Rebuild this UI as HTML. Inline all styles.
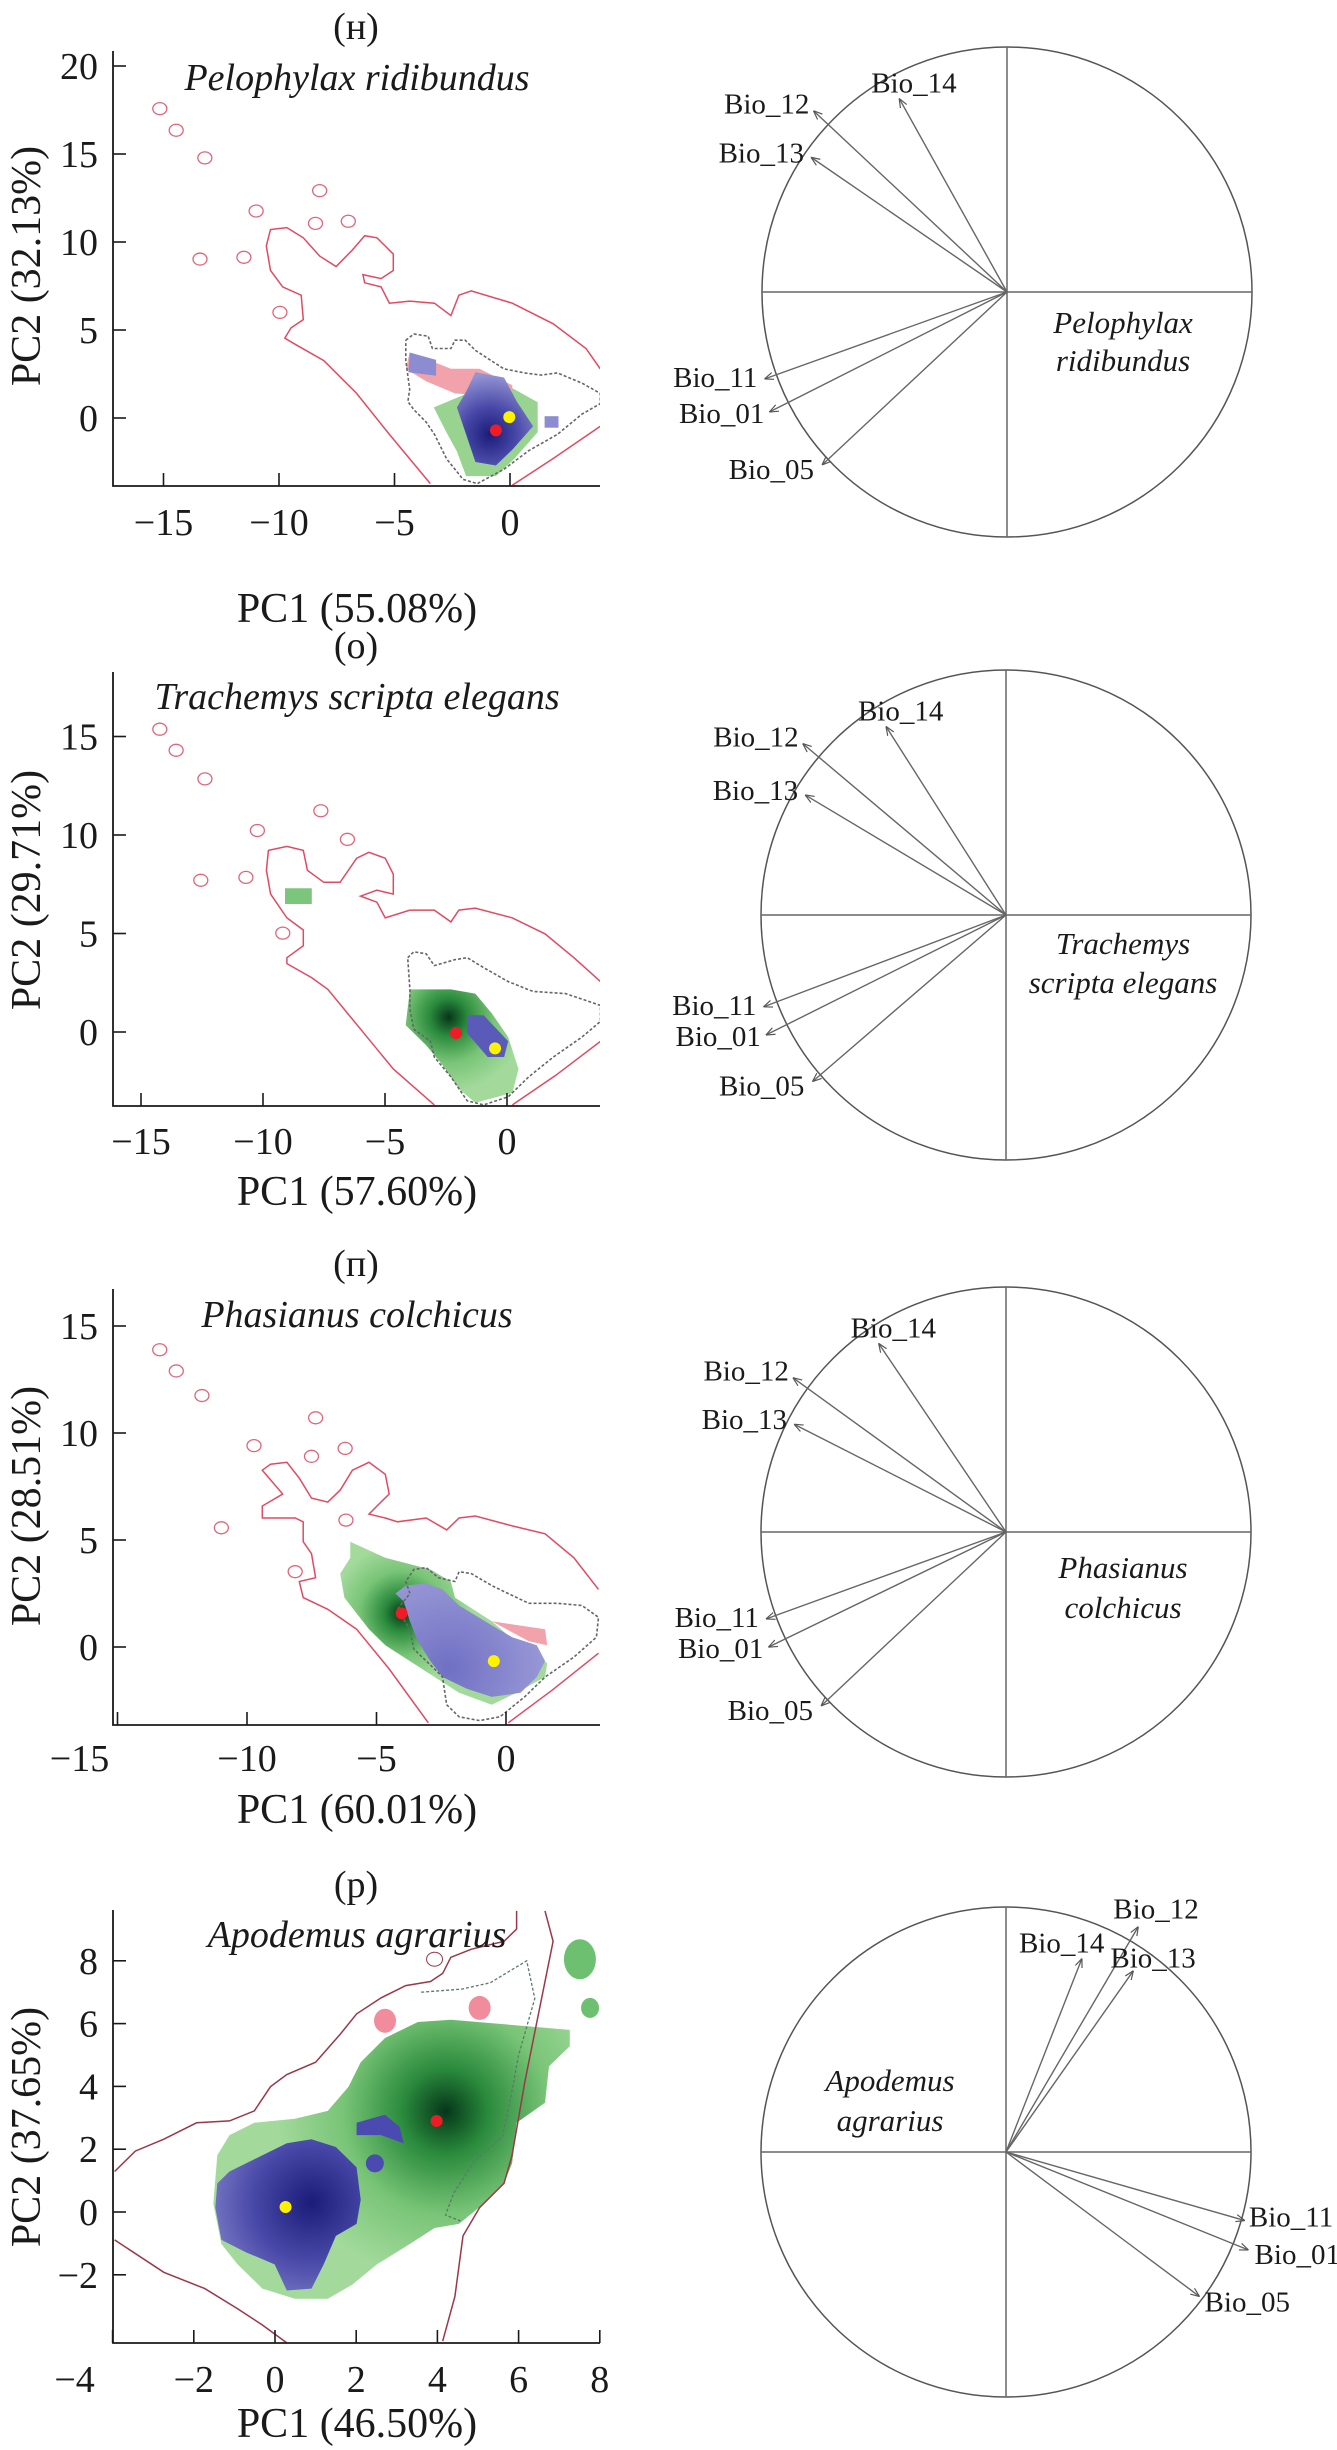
<!DOCTYPE html>
<html><head><meta charset="utf-8"><style>
html,body{margin:0;padding:0;background:#fff;}
svg{display:block;font-family:"Liberation Serif",serif;}
</style></head><body>
<svg id="fig" width="1337" height="2450" viewBox="0 0 1337 2450" xmlns="http://www.w3.org/2000/svg">
<defs>
<marker id="ah" viewBox="0 0 10 10" refX="10" refY="5" markerWidth="9" markerHeight="9" markerUnits="userSpaceOnUse" orient="auto"><path d="M0,1 L10,5 L0,9" fill="none" stroke="#555" stroke-width="1.3"/></marker>
</defs>
</svg>
<script>
// ---------- DATA ----------
const panelLetters = ["(н)", "(о)", "(п)", "(р)"];
const speciesNames = ["Pelophylax ridibundus", "Trachemys scripta elegans", "Phasianus colchicus", "Apodemus agrarius"];
const circleLine1 = ["Pelophylax", "Trachemys", "Phasianus", "Apodemus"];
const circleLine2 = ["ridibundus", "scripta elegans", "colchicus", "agrarius"];
const xTitles = ["PC1 (55.08%)", "PC1 (57.60%)", "PC1 (60.01%)", "PC1 (46.50%)"];
const yTitles = ["PC2 (32.13%)", "PC2 (29.71%)", "PC2 (28.51%)", "PC2 (37.65%)"];
const xTicks1 = [-15, -10, -5, 0];
const xTicks2 = [-15, -10, -5, 0];
const xTicks3 = [-15, -10, -5, 0];
const xTicks4 = [-4, -2, 0, 2, 4, 6, 8];
const yTicks1 = [0, 5, 10, 15, 20];
const yTicks2 = [0, 5, 10, 15];
const yTicks3 = [0, 5, 10, 15];
const yTicks4 = [-2, 0, 2, 4, 6, 8];

const bioNames = ["Bio_14", "Bio_12", "Bio_13", "Bio_11", "Bio_01", "Bio_05"];
const load1X = [-0.44, -0.79, -0.80, -0.99, -0.97, -0.755];
const load1Y = [0.79, 0.74, 0.55, -0.355, -0.49, -0.706];
const load2X = [-0.49, -0.83, -0.82, -0.99, -0.98, -0.79];
const load2Y = [0.77, 0.70, 0.49, -0.375, -0.49, -0.68];
const load3X = [-0.52, -0.87, -0.865, -0.98, -0.97, -0.755];
const load3Y = [0.77, 0.63, 0.44, -0.355, -0.47, -0.71];
const load4X = [0.31, 0.54, 0.52, 0.975, 0.99, 0.79];
const load4Y = [0.79, 0.92, 0.74, -0.28, -0.40, -0.59];

const red1 = [-0.61, -0.70], yellow1 = [-0.03, 0.05];
const red2 = [-2.09, -0.06], yellow2 = [-0.49, -0.83];
const red3 = [-4.03, 1.57], yellow3 = [-0.47, -0.66];
const red4 = [3.98, 2.90], yellow4 = [0.26, 0.16];

const p1Outer = [[-3.45,-3.73],[-5.22,-0.93],[-6.64,1.40],[-8.06,3.26],[-9.30,4.19],[-9.75,4.54],[-9.48,5.12],[-8.95,5.59],[-9.04,6.98],[-9.84,7.45],[-10.37,8.38],[-10.55,9.78],[-10.37,10.71],[-9.66,10.82],[-8.95,10.24],[-8.24,9.20],[-7.53,8.61],[-6.82,9.55],[-6.29,10.36],[-5.76,10.24],[-5.05,9.31],[-5.05,8.38],[-5.58,7.92],[-6.37,8.15],[-6.29,7.68],[-5.58,7.45],[-5.22,6.52],[-4.34,6.64],[-3.27,6.52],[-2.56,5.82],[-2.21,6.98],[-1.68,7.22],[0.10,6.52],[1.87,5.35],[3.29,3.95],[3.91,2.79]];
const p1Outer2 = [[0.10,-3.82],[1.87,-2.30],[3.91,-0.47]];
const p1Islands = [[-15.16,17.58],[-14.45,16.35],[-13.21,14.78],[-8.24,12.92],[-10.99,11.76],[-8.42,11.06],[-7.0,11.18],[-13.42,9.03],[-11.52,9.13],[-9.96,6.0]];
const p1Gray = [[-4.51,4.42],[-4.16,4.77],[-3.54,4.65],[-3.36,3.95],[-2.56,3.95],[-2.38,4.42],[-1.94,4.42],[-1.50,3.84],[-0.26,2.79],[0.63,2.56],[1.34,2.44],[2.05,2.56],[3.12,1.98],[3.91,1.40],[3.91,0.81],[3.12,0.23],[2.05,-0.93],[0.81,-1.86],[-0.26,-2.91],[-1.41,-3.73],[-2.03,-3.49],[-2.74,-2.33],[-3.27,-0.93],[-3.63,-0.23],[-4.16,0.47],[-4.42,0.93],[-4.34,1.63],[-4.51,3.26]];
const p1Green = [[-3.3,0.6],[-2.03,1.3],[0.10,1.7],[1.2,0.9],[1.2,-0.8],[0.2,-2.3],[-0.61,-3.3],[-1.9,-3.3],[-2.3,-1.9],[-2.8,-0.7]];
const p1Pink = [[-4.34,3.72],[-2.56,2.8],[-1.32,2.8],[0.10,1.86],[0.10,1.16],[-2.38,1.40],[-3.63,2.09],[-4.51,2.79]];
const p1Blue = [[-2.3,0.6],[-1.9,1.5],[-1.5,2.6],[-0.26,2.3],[0.3,0.93],[1.0,-0.47],[0.1,-1.8],[-0.61,-2.7],[-1.5,-2.5],[-1.9,-0.93]];
const p1BlueStrip = [[-4.34,3.72],[-3.2,3.3],[-3.2,2.4],[-4.4,2.6]];
const p1BlueSq = [[1.5,0.1],[2.1,0.1],[2.1,-0.55],[1.5,-0.55]];
const p1Navy = [-0.87,-0.93];

const p2Outer = [[-2.98,-3.70],[-4.66,-1.88],[-6.00,0.14],[-7.34,2.16],[-8.01,2.76],[-9.02,3.47],[-9.02,3.77],[-8.35,4.38],[-8.35,5.18],[-9.02,5.79],[-9.69,7.0],[-9.86,8.21],[-9.78,9.22],[-9.02,9.42],[-8.35,9.22],[-8.18,8.21],[-7.51,7.60],[-6.84,7.60],[-6.16,8.82],[-5.66,9.12],[-4.99,8.82],[-4.66,8.01],[-4.66,7.0],[-5.33,7.20],[-6.00,6.90],[-5.33,6.59],[-4.99,5.79],[-3.98,6.19],[-2.98,6.19],[-2.30,5.59],[-1.97,6.19],[-1.30,6.29],[0.22,5.79],[1.56,4.98],[2.74,3.77],[3.83,2.56]];
const p2Outer2 = [[0.22,-3.70],[2.0,-2.2],[3.83,-0.47]];
const p2Islands = [[-14.23,15.37],[-13.56,14.30],[-12.38,12.85],[-7.63,11.23],[-10.23,10.23],[-6.54,9.78],[-12.55,7.70],[-10.70,7.85],[-9.19,5.02]];
const p2Gray = [[-4.07,3.77],[-3.82,4.07],[-3.31,3.97],[-2.98,3.37],[-2.14,3.67],[-1.63,3.77],[-0.96,3.27],[0.05,2.56],[1.06,2.06],[2.40,1.95],[3.83,1.35],[3.83,0.54],[3.07,-0.26],[1.90,-1.27],[0.89,-2.28],[0.05,-3.29],[-0.96,-3.70],[-1.63,-3.49],[-2.30,-2.28],[-2.98,-1.27],[-3.14,-0.47],[-3.82,0.14],[-3.98,1.15],[-3.98,2.16]];
const p2Green = [[-3.98,2.16],[-2.30,2.16],[-1.30,1.95],[-0.62,0.94],[0.05,-0.26],[0.47,-1.88],[0.22,-3.09],[-1.30,-3.59],[-1.97,-2.89],[-2.64,-1.68],[-3.31,-0.67],[-4.15,0.34]];
const p2Blue = [[-1.63,0.85],[-0.96,0.85],[0.05,-0.47],[-0.12,-1.27],[-0.79,-1.27],[-1.63,-0.06]];
const p2GreenIsland = [[-9.1,7.3],[-8.0,7.3],[-8.0,6.5],[-9.1,6.5]];
const p2Dark = [-2.39,0.75];

const p3Outer = [[-3.00,-3.54],[-4.51,-1.03],[-5.77,0.83],[-6.88,1.76],[-7.83,2.31],[-7.98,3.06],[-7.35,3.24],[-7.51,4.36],[-7.83,4.92],[-7.83,5.85],[-8.14,6.03],[-9.41,6.03],[-9.41,6.59],[-8.62,7.15],[-9.41,8.26],[-9.09,8.54],[-8.46,8.63],[-7.98,7.89],[-7.51,6.96],[-6.88,6.77],[-6.40,7.33],[-5.93,8.26],[-5.29,8.63],[-4.66,8.07],[-4.51,7.15],[-4.98,6.59],[-5.29,6.21],[-4.66,6.03],[-4.19,5.85],[-3.08,6.03],[-2.29,5.47],[-1.81,6.03],[-1.18,6.12],[0.24,5.66],[1.51,5.29],[2.62,4.17],[3.57,2.69]];
const p3Outer2 = [[0.09,-3.54],[1.8,-2.0],[3.57,-0.29]];
const p3Islands = [[-13.37,13.89],[-12.73,12.90],[-11.74,11.75],[-7.35,10.71],[-9.73,9.41],[-7.51,8.91],[-6.21,9.28],[-10.99,5.57],[-8.14,3.52],[-6.18,5.93]];
const p3Gray = [[-3.71,2.50],[-3.87,3.06],[-3.56,3.62],[-3.08,3.71],[-2.61,3.24],[-1.97,3.06],[-1.81,3.52],[-1.34,3.43],[-0.55,2.87],[0.08,2.50],[0.88,2.04],[1.98,2.04],[2.93,1.94],[3.57,1.39],[3.49,0.46],[2.62,-0.47],[1.51,-1.40],[0.72,-2.33],[-0.23,-3.26],[-1.02,-3.44],[-1.81,-3.26],[-2.29,-2.70],[-2.45,-1.40],[-2.92,-0.84],[-3.56,-0.10],[-3.71,0.83],[-4.19,1.76]];
const p3Green = [[-6.01,4.92],[-4.66,4.17],[-2.92,3.62],[-2.13,3.06],[-1.97,2.31],[-0.55,1.20],[0.88,-0.29],[1.59,-0.75],[1.51,-1.40],[0.40,-2.14],[-0.55,-2.70],[-1.81,-2.14],[-2.76,-1.40],[-3.71,-0.66],[-4.66,0.08],[-5.29,0.83],[-5.77,1.57],[-6.24,2.31],[-6.40,3.43],[-6.01,4.17]];
const p3Pink = [[-0.55,1.20],[1.51,0.83],[1.59,0.08],[0.88,0.27]];
const p3Blue = [[-4.27,2.50],[-3.87,2.87],[-3.08,2.97],[-2.45,2.69],[-1.81,1.94],[-0.55,1.01],[0.24,0.46],[1.19,0.08],[1.51,-0.66],[1.19,-1.40],[0.56,-2.14],[-0.55,-2.33],[-1.50,-1.96],[-2.45,-1.40],[-2.92,-0.66],[-3.40,0.27],[-3.71,1.20],[-3.95,2.13]];

const p4OuterTop = [[-3.95,1.29],[-3.44,1.94],[-2.74,2.32],[-1.93,2.84],[-1.12,2.90],[-0.51,3.22],[-0.11,3.99],[0.29,4.38],[1.00,4.77],[1.61,5.67],[2.01,6.31],[2.61,6.82],[3.22,7.21],[3.83,7.34],[4.13,7.60],[4.33,8.11],[4.84,8.37],[5.64,8.62],[5.95,9.01],[5.95,9.59]];
const p4OuterRight = [[6.65,9.59],[6.85,8.62],[6.65,7.34],[6.35,5.41],[6.15,4.12],[5.84,1.81],[5.64,0.91],[5.04,0.14],[4.63,-0.76],[4.43,-2.69],[4.13,-4.11]];
const p4OuterLow = [[-3.95,-0.89],[-2.74,-1.92],[-1.73,-2.44],[-0.92,-3.08],[-0.31,-3.60],[0.29,-4.17]];
const p4Gray = [[3.6,7.0],[4.6,7.1],[5.3,7.3],[6.2,8.0],[6.4,6.8],[6.0,5.0],[5.8,3.6],[5.6,2.4],[4.9,1.6],[4.4,0.6],[4.2,-0.1],[4.6,-0.3]];
const p4Green = [[-1.42,1.81],[-1.12,2.45],[-0.51,2.84],[0.49,2.97],[1.30,3.22],[1.81,3.99],[2.11,4.77],[2.71,5.54],[3.52,6.05],[4.33,6.12],[5.54,5.99],[7.26,5.80],[7.26,5.28],[6.75,4.64],[6.65,3.48],[5.95,2.84],[5.84,1.55],[5.64,0.91],[5.14,0.26],[4.53,-0.38],[3.93,-0.51],[3.32,-1.02],[2.51,-1.67],[1.91,-2.31],[1.30,-2.76],[0.49,-2.76],[-0.31,-2.44],[-0.92,-1.67],[-1.32,-1.02],[-1.52,0.26]];
const p4Blue = [[-1.42,0.91],[-1.12,1.29],[-0.51,1.68],[0.29,2.19],[0.90,2.32],[1.50,2.07],[2.01,1.42],[2.11,0.39],[2.01,-0.38],[1.50,-0.76],[1.20,-1.67],[0.90,-2.44],[0.29,-2.50],[-0.01,-1.67],[-0.72,-1.28],[-1.32,-0.89],[-1.47,0.14]];
const p4BlueSmall = [[2.01,2.84],[2.71,3.10],[3.07,2.71],[3.17,2.19],[2.61,2.45],[2.01,2.45]];
const p4BlueDot = [2.46,1.55];
const p4Pink = [[2.71,6.09],[5.04,6.50]];
const p4GreenIsl = [[7.51,8.05],[7.76,6.50]];
const p4Loop = [3.93,8.05];
const p4DarkGreen = [4.2,3.2];
const p4Navy = [0.9,0.3];

// ---------- LAYOUT (pixels) ----------
const layout = [
 {x0:510,sx:23.1,y0:418,sy:17.6,top:51,bottom:486,letterY:39,titleY:90,tickY:535,xtY:622,ytY:266,cx:1007,cy:292,l1:333,l2:371,lx:1123},
 {x0:507,sx:24.4,y0:1032,sy:19.7,top:672,bottom:1106,letterY:658,titleY:709,tickY:1154,xtY:1205,ytY:890,cx:1006,cy:915,l1:954,l2:993,lx:1123},
 {x0:506,sx:25.9,y0:1647,sy:21.4,top:1289,bottom:1725,letterY:1276,titleY:1327,tickY:1771,xtY:1823,ytY:1506,cx:1006,cy:1532,l1:1578,l2:1618,lx:1123},
 {x0:275,sx:40.6,y0:2212,sy:31.4,top:1910,bottom:2343,letterY:1897,titleY:1947,tickY:2392,xtY:2437,ytY:2127,cx:1006,cy:2152,l1:2091,l2:2131,lx:890}
];
const AX_L = 113, AX_R = 600, R = 245;

const NS = 'http://www.w3.org/2000/svg';
const svg = document.getElementById('fig');
const defs = svg.querySelector('defs');
function mk(tag, parent){ const e = document.createElementNS(NS, tag); (parent || svg).appendChild(e); return e; }

function scales(L){ return { X: v => L.x0 + v * L.sx, Y: v => L.y0 - v * L.sy }; }
function pathOf(pts, s, closed){ return 'M' + pts.map(p => s.X(p[0]).toFixed(1) + ',' + s.Y(p[1]).toFixed(1)).join('L') + (closed ? 'Z' : ''); }

function gradient(id, cx, cy, r, stops){
  const g = mk('radialGradient', defs);
  g.setAttribute('id', id); g.setAttribute('gradientUnits', 'userSpaceOnUse');
  g.setAttribute('cx', cx); g.setAttribute('cy', cy); g.setAttribute('r', r);
  stops.forEach(st => { const s = mk('stop', g); s.setAttribute('offset', st[0]); s.setAttribute('stop-color', st[1]); });
}
const GREEN = [[0,'#05361a'],[0.25,'#2a8a3c'],[0.6,'#78c476'],[1,'#a3da9c']];
const BLUE = [[0,'#1b1b78'],[0.45,'#4848a8'],[1,'#9494d4']];

function poly(g, pts, s, fill, name){
  const p = mk('path', g);
  p.setAttribute('d', pathOf(pts, s, true)); p.setAttribute('fill', fill);
  
  
  return p;
}
function line(g, pts, s, stroke, dash, w, name){
  const p = mk('path', g);
  p.setAttribute('d', pathOf(pts, s, false)); p.setAttribute('fill', 'none');
  p.setAttribute('stroke', stroke); p.setAttribute('stroke-width', w);
  if (dash) p.setAttribute('stroke-dasharray', dash);
  
  
  return p;
}
function islands(g, pts, s, name){
  pts.forEach(c => {
    const e = mk('ellipse', g);
    e.setAttribute('cx', s.X(c[0])); e.setAttribute('cy', s.Y(c[1]));
    e.setAttribute('rx', 7); e.setAttribute('ry', 6);
    e.setAttribute('fill', 'none'); e.setAttribute('stroke', '#e0657a'); e.setAttribute('stroke-width', 1.3);
    
    
  });
}
function dot(g, c, s, color, name){
  const e = mk('circle', g);
  e.setAttribute('cx', s.X(c[0])); e.setAttribute('cy', s.Y(c[1])); e.setAttribute('r', 6);
  e.setAttribute('fill', color);
  
  
}
function text(str, x, y, size, opts){
  const t = mk('text', opts && opts.parent);
  t.textContent = str;
  t.setAttribute('x', x); t.setAttribute('y', y);
  t.setAttribute('font-size', size); t.setAttribute('fill', '#1a1a1a');
  t.setAttribute('text-anchor', (opts && opts.anchor) || 'middle');
  if (opts && opts.italic) t.setAttribute('font-style', 'italic');
  if (opts && opts.transform) t.setAttribute('transform', opts.transform);
  return t;
}

const xTickSets = [xTicks1, xTicks2, xTicks3, xTicks4];
const yTickSets = [yTicks1, yTicks2, yTicks3, yTicks4];
const loadX = [load1X, load2X, load3X, load4X];
const loadY = [load1Y, load2Y, load3Y, load4Y];

layout.forEach((L, i) => {
  const s = scales(L);
  const n = i + 1;
  const cp = mk('clipPath', defs); cp.setAttribute('id', 'clip' + n);
  const cr = mk('rect', cp); cr.setAttribute('x', AX_L); cr.setAttribute('y', L.top); cr.setAttribute('width', AX_R - AX_L); cr.setAttribute('height', L.bottom - L.top);
  const g = mk('g');
  g.setAttribute('clip-path', 'url(#clip' + n + ')');
  
  

  if (n === 1) {
    gradient('b1', s.X(p1Navy[0]), s.Y(p1Navy[1]), 60, BLUE);
    poly(g, p1Green, s, '#98d490', 'species-niche-green');
    poly(g, p1Pink, s, '#f2a2aa', 'overlap-pink');
    poly(g, p1Blue, s, 'url(#b1)', 'species-niche-blue');
    poly(g, p1BlueStrip, s, '#8c8cd0', 'blue-strip');
    poly(g, p1BlueSq, s, '#8c8cd0', 'blue-square');
    line(g, p1Outer, s, '#e04a62', null, 1.5, 'background-contour');
    line(g, p1Outer2, s, '#e04a62', null, 1.5, 'background-contour-lower');
    islands(g, p1Islands, s, 'contour-island');
    line(g, p1Gray.concat([p1Gray[0]]), s, '#666', '3,2', 1.6, 'native-contour');
    dot(g, red1, s, '#ee1c24', 'centroid-red'); dot(g, yellow1, s, '#fff200', 'centroid-yellow');
  } else if (n === 2) {
    gradient('g2', s.X(p2Dark[0]), s.Y(p2Dark[1]), 75, GREEN);
    poly(g, p2Green, s, 'url(#g2)', 'species-niche-green');
    poly(g, p2GreenIsland, s, '#7cc57c', 'green-island');
    poly(g, p2Blue, s, '#5a5ab8', 'species-niche-blue');
    line(g, p2Outer, s, '#e04a62', null, 1.5, 'background-contour');
    line(g, p2Outer2, s, '#e04a62', null, 1.5, 'background-contour-lower');
    islands(g, p2Islands, s, 'contour-island');
    line(g, p2Gray.concat([p2Gray[0]]), s, '#666', '3,2', 1.6, 'native-contour');
    dot(g, red2, s, '#ee1c24', 'centroid-red'); dot(g, yellow2, s, '#fff200', 'centroid-yellow');
  } else if (n === 3) {
    gradient('g3', s.X(red3[0]), s.Y(red3[1]), 70, GREEN);
    gradient('b3', s.X(-2.2), s.Y(-1.0), 130, [[0,'#7070c4'],[1,'#a6a6dc']]);
    poly(g, p3Green, s, 'url(#g3)', 'species-niche-green');
    poly(g, p3Pink, s, '#f2a2aa', 'overlap-pink');
    poly(g, p3Blue, s, 'url(#b3)', 'species-niche-blue');
    line(g, p3Outer, s, '#e04a62', null, 1.5, 'background-contour');
    line(g, p3Outer2, s, '#e04a62', null, 1.5, 'background-contour-lower');
    islands(g, p3Islands, s, 'contour-island');
    line(g, p3Gray.concat([p3Gray[0]]), s, '#666', '3,2', 1.6, 'native-contour');
    dot(g, red3, s, '#ee1c24', 'centroid-red'); dot(g, yellow3, s, '#fff200', 'centroid-yellow');
  } else {
    gradient('g4', s.X(p4DarkGreen[0]), s.Y(p4DarkGreen[1]), 170, GREEN);
    gradient('b4', s.X(p4Navy[0]), s.Y(p4Navy[1]), 130, BLUE);
    poly(g, p4Green, s, 'url(#g4)', 'species-niche-green');
    poly(g, p4Blue, s, 'url(#b4)', 'species-niche-blue');
    poly(g, p4BlueSmall, s, '#4a4ab0', 'blue-patch');
    const bd = mk('circle', g); bd.setAttribute('cx', s.X(p4BlueDot[0])); bd.setAttribute('cy', s.Y(p4BlueDot[1])); bd.setAttribute('r', 9); bd.setAttribute('fill', '#4a4ab0');
    
    
    p4Pink.forEach(c => { const e = mk('ellipse', g); e.setAttribute('cx', s.X(c[0])); e.setAttribute('cy', s.Y(c[1])); e.setAttribute('rx', 11); e.setAttribute('ry', 12); e.setAttribute('fill', '#f08c9c');
      
       });
    p4GreenIsl.forEach((c, k) => { const e = mk('ellipse', g); e.setAttribute('cx', s.X(c[0])); e.setAttribute('cy', s.Y(c[1])); e.setAttribute('rx', k ? 9 : 16); e.setAttribute('ry', k ? 10 : 20); e.setAttribute('fill', '#6cc070');
      
       });
    line(g, p4OuterTop, s, '#9a3848', null, 1.5, 'background-contour-top');
    line(g, p4OuterRight, s, '#9a3848', null, 1.5, 'background-contour-right');
    line(g, p4OuterLow, s, '#9a3848', null, 1.5, 'background-contour-lower');
    line(g, p4Gray, s, '#5a7a6a', '3,2', 1.3, 'native-contour');
    const lp = mk('ellipse', g); lp.setAttribute('cx', s.X(p4Loop[0])); lp.setAttribute('cy', s.Y(p4Loop[1])); lp.setAttribute('rx', 8); lp.setAttribute('ry', 7); lp.setAttribute('fill', 'none'); lp.setAttribute('stroke', '#9a3848');
    
    
    dot(g, red4, s, '#ee1c24', 'centroid-red'); dot(g, yellow4, s, '#fff200', 'centroid-yellow');
  }

  const ax = mk('path');
  ax.setAttribute('d', `M${AX_L},${L.top}V${L.bottom}H${AX_R}`);
  ax.setAttribute('fill', 'none'); ax.setAttribute('stroke', '#1a1a1a'); ax.setAttribute('stroke-width', 1.8);
  
  
  xTickSets[i].forEach(v => {
    const x = s.X(v);
    const t = mk('line'); t.setAttribute('x1', x); t.setAttribute('x2', x); t.setAttribute('y1', L.bottom); t.setAttribute('y2', L.bottom - 13); t.setAttribute('stroke', '#1a1a1a'); t.setAttribute('stroke-width', 1.6);
    
    
    const lx = (x - AX_L < 5) ? x - 38 : x;
    const lab = text(v < 0 ? '\u2212' + Math.abs(v) : String(v), lx, L.tickY, 38);
    
    
  });
  yTickSets[i].forEach(v => {
    const y = s.Y(v);
    const t = mk('line'); t.setAttribute('x1', AX_L); t.setAttribute('x2', AX_L + 13); t.setAttribute('y1', y); t.setAttribute('y2', y); t.setAttribute('stroke', '#1a1a1a'); t.setAttribute('stroke-width', 1.6);
    
    
    const lab = text(v < 0 ? '\u2212' + Math.abs(v) : String(v), 98, y + 13, 38, {anchor: 'end'});
    
    
  });
  const pl = text(panelLetters[i], 356, L.letterY, 38);
  
  
  const ti = text(speciesNames[i], 357, L.titleY, 38, {italic: true});
  
  
  const xt = text(xTitles[i], 357, L.xtY, 42);
  
  
  const yt = text(yTitles[i], 0, 0, 42, {transform: `translate(40,${L.ytY}) rotate(-90)`});
  
  

  const cg = mk('g');
  
  
  const c = mk('circle', cg); c.setAttribute('cx', L.cx); c.setAttribute('cy', L.cy); c.setAttribute('r', R); c.setAttribute('fill', 'none'); c.setAttribute('stroke', '#555'); c.setAttribute('stroke-width', 1.5);
  
  
  const cross = mk('path', cg); cross.setAttribute('d', `M${L.cx - R},${L.cy}H${L.cx + R}M${L.cx},${L.cy - R}V${L.cy + R}`); cross.setAttribute('stroke', '#666'); cross.setAttribute('stroke-width', 1.5);
  
  
  const cx = v => L.cx + v * R, cy = v => L.cy - v * R;
  const offs = n === 4
    ? [[-63,-6,'start'],[-25,-8,'start'],[-23,-3,'start'],[4,6,'start'],[6,14,'start'],[5,15,'start']]
    : [[-28,-6,'start'],[-4,3,'end'],[-7,5,'end'],[-7,8,'end'],[-5,11,'end'],[-8,14,'end']];
  bioNames.forEach((b, k) => {
    const tx = cx(loadX[i][k]), ty = cy(loadY[i][k]);
    const a = mk('line', cg); a.setAttribute('x1', L.cx); a.setAttribute('y1', L.cy); a.setAttribute('x2', tx); a.setAttribute('y2', ty);
    a.setAttribute('stroke', '#666'); a.setAttribute('stroke-width', 1.4); a.setAttribute('marker-end', 'url(#ah)');
    
    
    const t = text(b, tx + offs[k][0], ty + offs[k][1], 29, {anchor: offs[k][2], parent: cg});
    
    
  });
  const s1 = text(circleLine1[i], L.lx, L.l1, 31, {italic: true, parent: cg});
  
  
  const s2 = text(circleLine2[i], L.lx, L.l2, 31, {italic: true, parent: cg});
  
  
});
</script>
</body></html>
